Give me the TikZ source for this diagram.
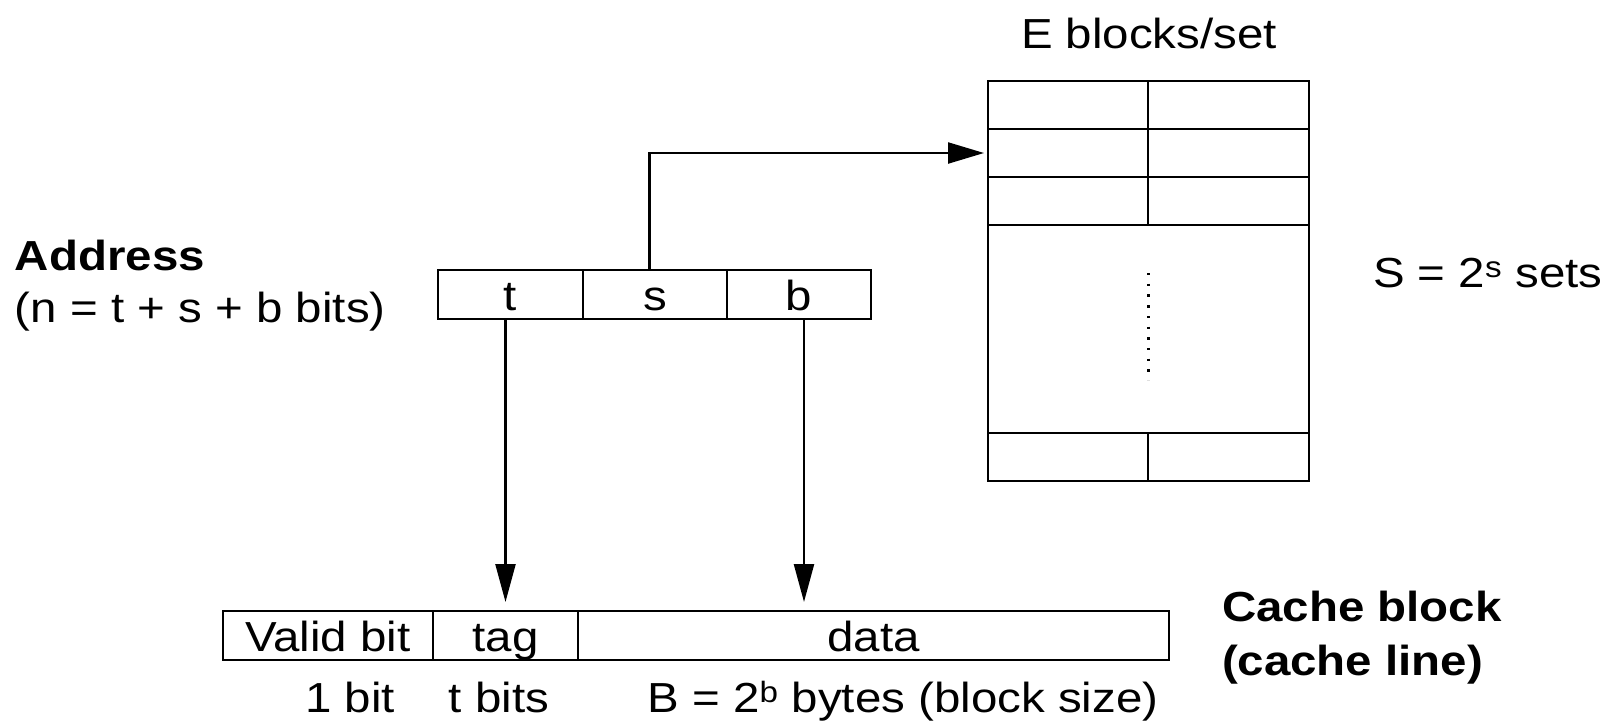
\documentclass[tikz,border=0pt]{standalone}
\usepackage{fontspec}
\setmainfont[FakeStretch=1.13]{Liberation Sans}
\usetikzlibrary{arrows.meta}
\begin{document}
\begin{tikzpicture}[x=1pt,y=-1pt,
  font=\fontsize{42}{50}\selectfont,
  cell/.style={draw, line width=2.6pt, inner sep=0pt, outer sep=0pt,
    text height=34pt, text depth=2pt, anchor=north west},
  lbl/.style={inner sep=0pt, outer sep=0pt},
  conn/.style={line width=2.3pt, -{Triangle[length=38pt,width=20pt]}},
  dots/.style={line width=2.4pt, dash pattern=on 2.4pt off 8.3pt}
]
\useasboundingbox (0,0) rectangle (1610,721);

% Address fields
\node[cell, minimum width=145pt, minimum height=49pt] (t) at (438,270) {t};
\node[cell, minimum width=144pt, minimum height=49pt] (s) at (583,270) {s};
\node[cell, minimum width=144pt, minimum height=49pt] (b) at (727,270) {b};

% Cache block fields
\node[cell, minimum width=210pt, minimum height=49pt] (valid) at (223,611) {Valid bit};
\node[cell, minimum width=145pt, minimum height=49pt] (tag) at (433,611) {tag};
\node[cell, minimum width=591pt, minimum height=49pt] (data) at (578,611) {data};

% Set table
\node[cell, minimum width=160pt, minimum height=48pt] (r1a) at (988,81) {};
\node[cell, minimum width=161pt, minimum height=48pt] (r1b) at (1148,81) {};
\node[cell, minimum width=160pt, minimum height=48pt] (r2a) at (988,129) {};
\node[cell, minimum width=161pt, minimum height=48pt] (r2b) at (1148,129) {};
\node[cell, minimum width=160pt, minimum height=48pt] (r3a) at (988,177) {};
\node[cell, minimum width=161pt, minimum height=48pt] (r3b) at (1148,177) {};
\node[cell, minimum width=321pt, minimum height=208pt] (mid) at (988,225) {};
\node[cell, minimum width=160pt, minimum height=48pt] (r4a) at (988,433) {};
\node[cell, minimum width=161pt, minimum height=48pt] (r4b) at (1148,433) {};
\draw[dots] ([yshift=-48pt]mid.north) -- ([yshift=53pt]mid.south);

% Connectors
\draw[conn, -{Triangle[length=36pt,width=21pt]}, shorten >=4pt]
  ([xshift=-5.5pt]s.north) |- (r2a.west);
\draw[conn, shorten >=9pt] (tag.north |- t.south) -- (tag.north);
\draw[conn, shorten >=9pt] ([xshift=5pt]b.south) -- ([xshift=5pt]b.south |- data.north);

% Labels
\node[lbl, anchor=base] (eblocks) at (1149,48) {E blocks/set};
\node[lbl, anchor=base west] (addr) at (15,270) {\bfseries Address};
\node[lbl, anchor=base west] (nbits) at (15,322) {(n = t + s + b bits)};
\node[lbl, anchor=base west] (sets) at (1373,287) {S = 2\textsuperscript{s} sets};
\node[lbl, anchor=base west] (cb1) at (1222,621) {\bfseries Cache block};
\node[lbl, anchor=base west] (cb2) at (1222,675) {\bfseries (cache line)};
\node[lbl, anchor=base] (onebit) at (350,712) {1 bit};
\node[lbl, anchor=base] (tbits) at (499,712) {t bits};
\node[lbl, anchor=base] (bbytes) at (903,712) {B = 2\textsuperscript{b} bytes (block size)};
\end{tikzpicture}
\end{document}
